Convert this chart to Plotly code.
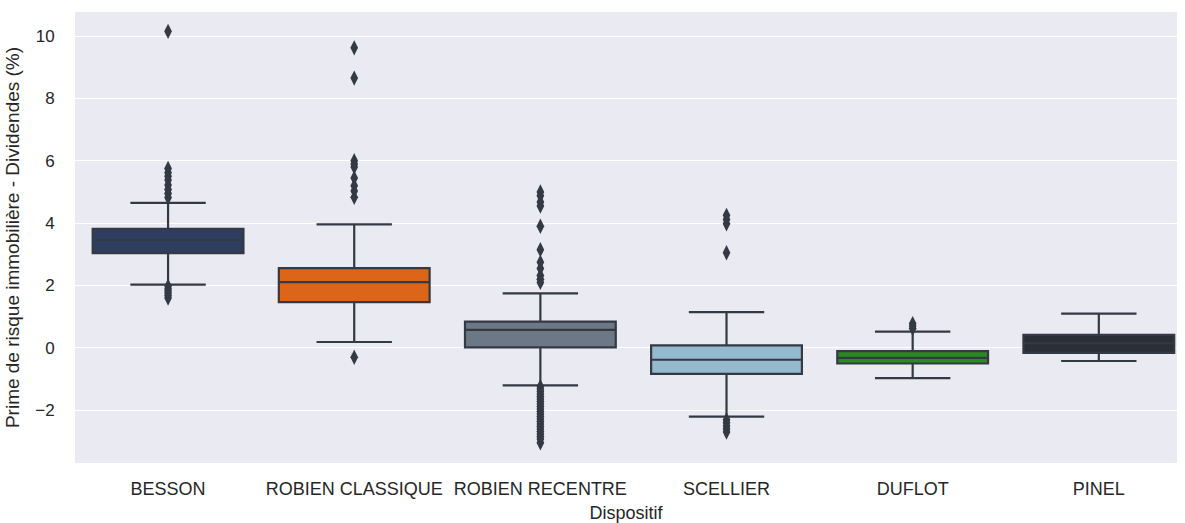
import plotly.graph_objects as go

# Categories (investment schemes) and box statistics (%)
dispositifs = ["BESSON", "ROBIEN CLASSIQUE", "ROBIEN RECENTRE", "SCELLIER", "DUFLOT", "PINEL"]
q1 = [3.04, 1.47, 0.02, -0.83, -0.50, -0.16]
median = [3.46, 2.11, 0.58, -0.38, -0.32, 0.15]
q3 = [3.82, 2.56, 0.84, 0.08, -0.10, 0.42]
lower_whisker = [2.03, 0.19, -1.20, -2.20, -0.97, -0.42]
upper_whisker = [4.65, 3.96, 1.75, 1.15, 0.52, 1.10]
colors = ["#2f3d60", "#dd6519", "#6c7885", "#95b9cd", "#2b8a1f", "#2a2e37"]

# Outlying observations per scheme
outliers = {
    "BESSON": [10.15, 5.75, 5.62, 5.5, 5.38, 5.22, 5.08, 4.95, 4.82,
               1.98, 1.9, 1.83, 1.76, 1.68, 1.6],
    "ROBIEN CLASSIQUE": [9.62, 8.65, 6.0, 5.9, 5.8, 5.45, 5.2, 5.03, 4.83, -0.3],
    "ROBIEN RECENTRE": [5.0, 4.88, 4.68, 4.55, 3.9, 3.15, 2.75, 2.55, 2.32, 2.2, 2.1,
                        -1.24, -1.32, -1.4, -1.48, -1.56, -1.64, -1.72, -1.8, -1.88,
                        -1.96, -2.04, -2.12, -2.2, -2.28, -2.36, -2.44, -2.52, -2.6,
                        -2.68, -2.76, -2.84, -2.92, -3.04],
    "SCELLIER": [4.25, 4.12, 3.98, 3.05, -2.3, -2.4, -2.5, -2.6, -2.7],
    "DUFLOT": [0.78, 0.7, 0.62],
    "PINEL": [],
}

line_color = "#343a44"
text_color = "#262626"

fig = go.Figure()

for i, name in enumerate(dispositifs):
    fig.add_trace(go.Box(
        x=[name],
        q1=[q1[i]], median=[median[i]], q3=[q3[i]],
        lowerfence=[lower_whisker[i]], upperfence=[upper_whisker[i]],
        fillcolor=colors[i],
        line=dict(color=line_color, width=2.2),
        width=0.81,
        whiskerwidth=0.5,
        boxpoints=False,
        showlegend=False,
        hoverinfo="skip",
    ))
    pts = outliers[name]
    if pts:
        fig.add_trace(go.Scatter(
            x=[name] * len(pts), y=pts,
            mode="markers",
            marker=dict(symbol="diamond-tall", size=11, color=line_color,
                        line=dict(width=0)),
            showlegend=False,
            hoverinfo="skip",
        ))

fig.update_layout(
    width=1185, height=523,
    margin=dict(l=75, r=8, t=12, b=60, autoexpand=False),
    paper_bgcolor="white",
    plot_bgcolor="#eaeaf2",
    font=dict(family="Liberation Sans, Arial, sans-serif", size=17, color=text_color),
    boxmode="overlay",
)

fig.update_xaxes(
    type="category",
    categoryorder="array", categoryarray=dispositifs,
    range=[-0.5, 5.42],
    automargin=False,
    showgrid=False, zeroline=False, showline=False,
    ticks="outside", ticklen=9, tickcolor="rgba(0,0,0,0)",
    tickfont=dict(size=18, color=text_color),
    title=dict(text="Dispositif", font=dict(size=18, color=text_color), standoff=8),
)

fig.update_yaxes(
    range=[-3.69, 10.77],
    tickvals=[-2, 0, 2, 4, 6, 8, 10],
    automargin=False,
    showgrid=True, gridcolor="white", gridwidth=1.3,
    zeroline=False, showline=False,
    ticks="outside", ticklen=16, tickcolor="rgba(0,0,0,0)",
    tickfont=dict(size=17, color=text_color),
    title=dict(text="Prime de risque immobilière - Dividendes (%)",
               font=dict(size=19, color=text_color), standoff=10),
)

fig.write_html("out.html")
